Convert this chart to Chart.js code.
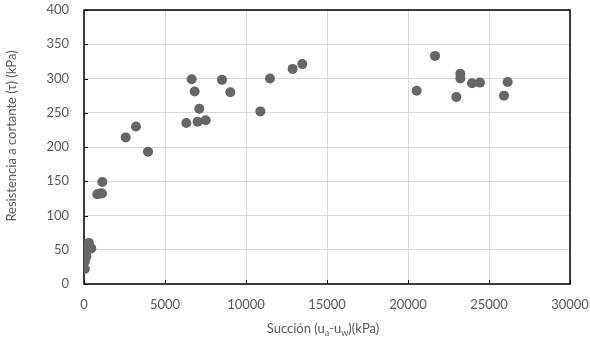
<!DOCTYPE html>
<html>
<head>
<meta charset="utf-8">
<script src="https://cdn.jsdelivr.net/npm/chart.js@4"></script>
<style>
  html, body { margin: 0; padding: 0; background: #fff; }
  #wrap { width: 590px; height: 338px; }
</style>
</head>
<body>
<div id="wrap"><canvas id="chart" width="590" height="338"></canvas></div>
<script>
// Succión (kPa) vs resistencia a cortante (kPa)
const succion = [50, 50, 150, 100, 200, 450, 300,
    821, 988, 1111, 1130, 2570, 3210, 3950,
    6315, 6646, 6830, 7117, 7016, 7510, 8518, 9033,
    10885, 11481, 12880, 13477,
    20535, 21667, 22984, 23230, 23230, 23950, 24444, 25926, 26152];
const resistencia = [22, 33, 40, 45, 55, 52, 60,
    131, 132, 132, 149, 214, 230, 193,
    235, 299, 281, 256, 237, 239, 298, 280,
    252, 300, 314, 321,
    282, 333, 273, 307, 300, 293, 294, 275, 295];

const xTicks = [0, 5000, 10000, 15000, 20000, 25000, 30000];
const yTicks = [0, 50, 100, 150, 200, 250, 300, 350, 400];

const textColor = "#595959";
const fontFam = "Lato, 'Open Sans', sans-serif";

const points = succion.map((x, i) => ({ x: x, y: resistencia[i] }));

// frame, inner tick marks and axis titles
const framePlugin = {
    id: "frame",
    beforeDatasetsDraw(chart) {
        const ctx = chart.ctx;
        const a = chart.chartArea;
        ctx.save();
        ctx.strokeStyle = "#000";
        ctx.lineWidth = 1.5;
        ctx.strokeRect(a.left, a.top, a.right - a.left, a.bottom - a.top);
        ctx.lineWidth = 1;
        const xs = chart.scales.x, ys = chart.scales.y;
        xTicks.forEach(v => {
            const px = Math.round(xs.getPixelForValue(v)) + 0.5;
            ctx.beginPath();
            ctx.moveTo(px, a.bottom);
            ctx.lineTo(px, a.bottom - 4);
            ctx.stroke();
        });
        yTicks.forEach(v => {
            const py = Math.round(ys.getPixelForValue(v)) + 0.5;
            ctx.beginPath();
            ctx.moveTo(a.left, py);
            ctx.lineTo(a.left + 4, py);
            ctx.stroke();
        });
        ctx.restore();
    },
    afterDraw(chart) {
        const ctx = chart.ctx;
        const a = chart.chartArea;
        ctx.save();
        ctx.fillStyle = textColor;
        ctx.textBaseline = "middle";

        // y title
        ctx.font = "13px " + fontFam;
        ctx.translate(12, 136);
        ctx.rotate(-Math.PI / 2);
        ctx.textAlign = "center";
        ctx.fillText("Resistencia a cortante (τ) (kPa)", 0, 0);
        ctx.setTransform(1, 0, 0, 1, 0, 0);

        // x title with subscripts
        const parts = [
            ["Succión (u", false], ["a", true], ["-u", false], ["w", true], [")(kPa)", false]
        ];
        const big = "13px " + fontFam, small = "9px " + fontFam;
        let w = 0;
        parts.forEach(p => { ctx.font = p[1] ? small : big; w += ctx.measureText(p[0]).width; });
        let x = (a.left + a.right) / 2 - 4 - w / 2;
        const y = 329;
        ctx.textAlign = "left";
        parts.forEach(p => {
            ctx.font = p[1] ? small : big;
            ctx.fillText(p[0], x, p[1] ? y + 4 : y);
            x += ctx.measureText(p[0]).width;
        });
        ctx.restore();
    }
};

new Chart(document.getElementById("chart").getContext("2d"), {
    type: "scatter",
    data: {
        datasets: [{
            data: points,
            backgroundColor: "#666666",
            borderColor: "#666666",
            borderWidth: 0,
            pointRadius: 5,
            pointHoverRadius: 5
        }]
    },
    options: {
        responsive: false,
        animation: false,
        layout: { padding: { left: 0, right: 20, top: 10, bottom: 0 } },
        plugins: {
            legend: { display: false },
            tooltip: { enabled: false }
        },
        scales: {
            x: {
                type: "linear",
                min: 0,
                max: 30000,
                afterBuildTicks: s => { s.ticks = xTicks.map(v => ({ value: v })); },
                afterFit: s => { s.height = 54; s.paddingLeft = 0; s.paddingRight = 0; },
                border: { display: false },
                grid: { color: "#d9d9d9", lineWidth: 1, drawTicks: false },
                ticks: {
                    color: textColor,
                    font: { family: fontFam, size: 13 },
                    padding: 13,
                    maxRotation: 0,
                    callback: v => String(v)
                }
            },
            y: {
                min: 0,
                max: 400,
                afterBuildTicks: s => { s.ticks = yTicks.map(v => ({ value: v })); },
                afterFit: s => { s.width = 84; s.paddingTop = 0; s.paddingBottom = 0; },
                border: { display: false },
                grid: { color: "#d9d9d9", lineWidth: 1, drawTicks: false },
                ticks: {
                    color: textColor,
                    font: { family: fontFam, size: 13 },
                    padding: 15,
                    callback: v => String(v)
                }
            }
        }
    },
    plugins: [framePlugin]
});
</script>
</body>
</html>
